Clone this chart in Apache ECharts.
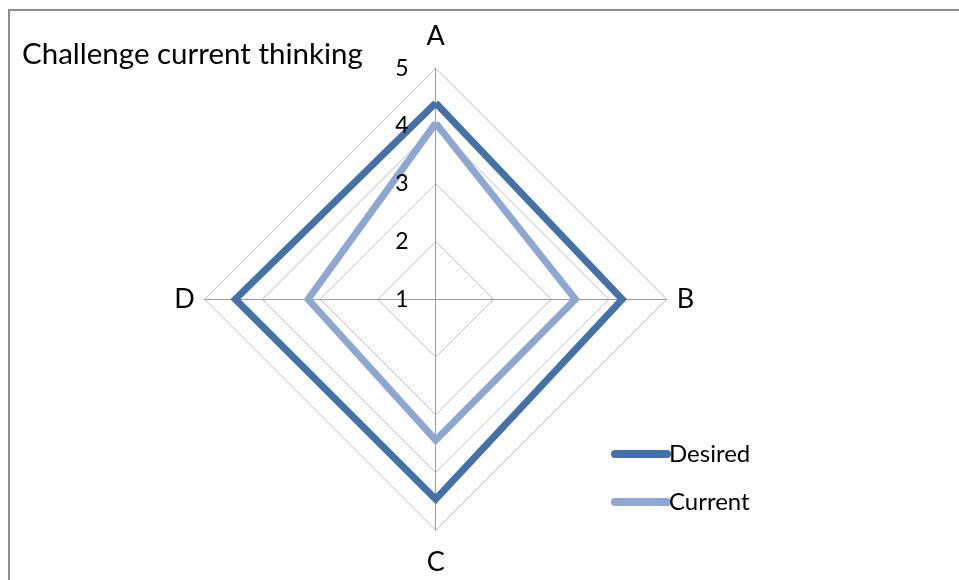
<!DOCTYPE html>
<html>
<head>
<meta charset="utf-8">
<script src="https://cdn.jsdelivr.net/npm/echarts@6/dist/echarts.min.js"></script>
<style>
html,body{margin:0;padding:0;background:#fff;}
#c{width:959px;height:580px;}
</style>
</head>
<body>
<div id="c"></div>
<script>
var titleText = 'Challenge current thinking';
var categories = ['A', 'B', 'C', 'D'];
var seriesNames = ['Desired', 'Current'];
var desired = [4.40, 4.23, 4.46, 4.47];
var current = [4.05, 3.42, 3.44, 3.21];
var axisMin = 1, axisMax = 5;

// ECharts places indicators counter-clockwise; the reference goes clockwise (A top, B right, C bottom, D left)
var order = [0, 3, 2, 1];
function reorder(arr) { return order.map(function (i) { return arr[i]; }); }

var FONT = 'Lato';
var CENTER = [435.7, 299.3], RADIUS = 231;
var chart = echarts.init(document.getElementById('c'), null, {renderer: 'canvas'});

function indicators() {
  return reorder(categories).map(function (c) { return {name: c, min: axisMin, max: axisMax}; });
}

var option = {
  backgroundColor: '#fff',
  animation: false,
  graphic: [{
    type: 'rect',
    shape: {x: 9, y: 10, width: 980, height: 600},
    style: {fill: 'none', stroke: '#8c8c8c', lineWidth: 2}
  }],
  title: {
    text: titleText,
    left: 17, top: 34,
    textStyle: {fontFamily: FONT, fontSize: 29.5, fontWeight: 'normal', color: '#000'}
  },
  legend: {
    orient: 'vertical',
    left: 606, top: 436,
    itemWidth: 60, itemHeight: 8, itemGap: 22,
    icon: 'path://M4,0 L56,0 A4,4 0 0 1 56,8 L4,8 A4,4 0 0 1 4,0 Z',
    data: seriesNames,
    textStyle: {fontFamily: FONT, fontSize: 24, color: '#000', lineHeight: 26, padding: [0, 0, 0, -7]}
  },
  radar: [{
    center: CENTER,
    radius: RADIUS,
    startAngle: 90,
    shape: 'polygon',
    splitNumber: 4,
    z: 1,
    indicator: indicators(),
    axisName: {
      fontFamily: FONT, fontSize: 27, color: '#000',
      formatter: function (name) {
        if (name === 'A') return '{up|' + name + '}';
        if (name === 'C') return '{dn|' + name + '}';
        return name;
      },
      rich: {
        up: {fontFamily: FONT, fontSize: 27, color: '#000', padding: [0, 0, 9, 0]},
        dn: {fontFamily: FONT, fontSize: 27, color: '#000', padding: [8, 0, 0, 0]}
      }
    },
    nameGap: 10,
    splitArea: {show: false},
    splitLine: {lineStyle: {color: '#bdbdbd', width: 1}},
    axisLine: {lineStyle: {color: '#9a9a9a', width: 1}},
    axisTick: {show: false},
    axisLabel: {show: false}
  }, {
    // second radar only carries the value labels, drawn above the series
    center: CENTER,
    radius: RADIUS,
    startAngle: 90,
    shape: 'polygon',
    splitNumber: 4,
    z: 5,
    indicator: indicators(),
    axisName: {show: false},
    splitArea: {show: false},
    splitLine: {show: false},
    axisLine: {show: false},
    axisTick: {show: false},
    axisLabel: {show: false}
  }],
  series: [{
    type: 'radar',
    radarIndex: 0,
    symbol: 'none',
    z: 2,
    data: [
      {name: seriesNames[0], value: reorder(desired),
       lineStyle: {color: '#4471a8', width: 7, join: 'miter'},
       itemStyle: {color: '#4471a8'}},
      {name: seriesNames[1], value: reorder(current),
       lineStyle: {color: '#8ea7d1', width: 7, join: 'miter'},
       itemStyle: {color: '#8ea7d1'}}
    ]
  }]
};
option.radar[1].indicator[0].axisLabel = {show: true, showMinLabel: true, fontFamily: FONT, fontSize: 23, color: '#000', margin: 27};
chart.setOption(option);
</script>
</body>
</html>
